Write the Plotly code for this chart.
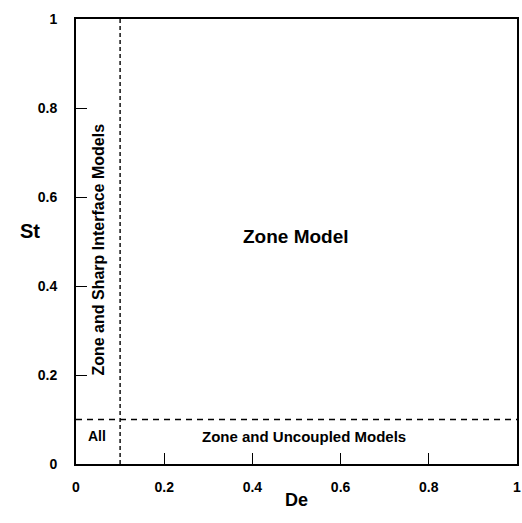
import plotly.graph_objects as go

# Data / labels
tick_vals = [0, 0.2, 0.4, 0.6, 0.8, 1]
tick_text = ["0", "0.2", "0.4", "0.6", "0.8", "1"]
de_boundary = 0.1   # critical De
st_boundary = 0.1   # critical St
region_labels = ["Zone Model", "Zone and Sharp Interface Models", "All", "Zone and Uncoupled Models"]
region_x = [0.498, 0.05, 0.047, 0.516]
region_y = [0.512, 0.482, 0.063, 0.061]
region_angle = [0, -90, 0, 0]
region_size = [19, 16, 14, 15]
x_title = "De"
y_title = "St"

FONT = "Liberation Sans, Arial"

fig = go.Figure()

# boundary lines
fig.add_trace(go.Scatter(x=[de_boundary, de_boundary], y=[0, 1], mode="lines",
                         line=dict(color="black", width=1.4, dash="4px,3px"),
                         showlegend=False, hoverinfo="skip"))
fig.add_trace(go.Scatter(x=[0, 1], y=[st_boundary, st_boundary], mode="lines",
                         line=dict(color="black", width=1.4, dash="6px,5px"),
                         showlegend=False, hoverinfo="skip"))

for t, x, y, a, s in zip(region_labels, region_x, region_y, region_angle, region_size):
    fig.add_annotation(x=x, y=y, text=f"<b>{t}</b>", textangle=a, showarrow=False,
                       font=dict(family=FONT, size=s, color="black"))

# axis titles
fig.add_annotation(xref="paper", yref="paper", x=0.5, y=-0.108, text=f"<b>{x_title}</b>",
                   showarrow=False, font=dict(family=FONT, size=18, color="black"))
fig.add_annotation(xref="paper", yref="paper", x=-0.131, y=0.524, text=f"<b>{y_title}</b>",
                   showarrow=False, font=dict(family=FONT, size=20, color="black"))

axis_common = dict(
    range=[0, 1], tickvals=tick_vals, ticktext=tick_text, automargin=False,
    showgrid=False, zeroline=False, showline=True, linecolor="black", linewidth=1.8,
    mirror=True, ticks="inside", ticklen=11, tickcolor="black", tickwidth=1.3,
    tickfont=dict(family=FONT, size=14, color="black", weight="bold"),
)

fig.update_layout(
    width=522, height=523,
    margin=dict(l=76, r=5, t=19, b=59),
    paper_bgcolor="white", plot_bgcolor="white",
    xaxis=dict(**axis_common, ticklabelstandoff=9),
    yaxis=dict(**axis_common, ticklabelstandoff=14),
)

# remove the default page margin so the figure fills the window exactly
fig.write_html("out.html", config={"displayModeBar": False},
               post_script="document.body.style.margin='0';document.body.style.overflow='hidden';")
